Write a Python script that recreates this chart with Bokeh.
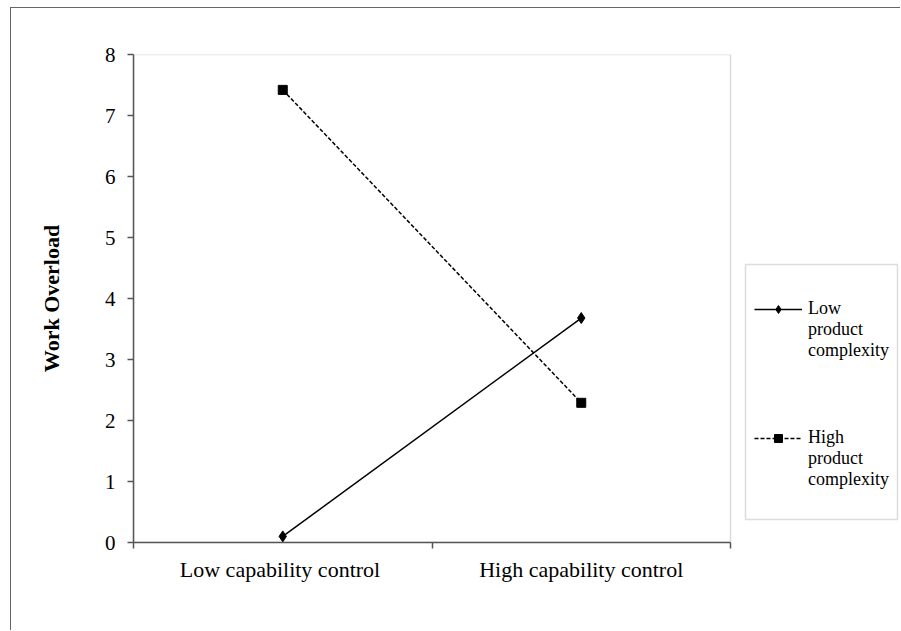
from bokeh.plotting import figure
from bokeh.models import FixedTicker, Legend, LegendItem, Range1d, BoxAnnotation
from bokeh.embed import file_html
from bokeh.resources import INLINE

categories = ["Low  capability control", "High capability control"]
low_complexity = [0.1, 3.68]
high_complexity = [7.42, 2.29]
series_names = ["Low\nproduct\ncomplexity", "High\nproduct\ncomplexity"]
y_ticks = [0, 1, 2, 3, 4, 5, 6, 7, 8]

FONT = "Liberation Serif"
n = len(categories)
ymax = 8
xs = [i + 0.5 for i in range(n)]

# layout in canvas pixels: plot area 133..730 x 54..542; canvas continues to 901
FL, FR, FT, FB = 133, 730, 54, 542
x_end = n * (901 - FL) / (FR - FL)

def px_x(px):
    return n * (px - FL) / (FR - FL)

def px_y(py):
    return ymax * (FB - py) / (FB - FT)

p = figure(width=890, height=623, output_backend="svg", toolbar_location=None,
           x_range=Range1d(0, x_end), y_range=Range1d(0, ymax),
           min_border_left=122, min_border_top=46, min_border_right=0, min_border_bottom=89)
p.styles = {"border-left": "1.5px solid #666", "border-top": "1.5px solid #666",
            "margin-left": "10px", "margin-top": "7px"}
p.grid.visible = False
p.outline_line_color = None
p.background_fill_color = "white"
p.border_fill_color = "white"

# frame of the plot area
p.add_layout(BoxAnnotation(left=0, right=n, bottom=0, top=ymax, fill_alpha=0,
                           line_color="#8a8a8a", line_width=1.5, level="underlay"))
# legend frame
p.add_layout(BoxAnnotation(left=px_x(745), right=px_x(897), bottom=px_y(519), top=px_y(264),
                           fill_alpha=0, line_color="#8a8a8a", line_width=1.5, level="underlay"))

r1 = p.line(xs, low_complexity, line_color="black", line_width=1.5)
m1 = p.scatter(xs, low_complexity, marker="diamond", size=11, color="black")
r2 = p.line(xs, high_complexity, line_color="black", line_width=1.5, line_dash="4 2")
m2 = p.scatter(xs, high_complexity, marker="square", size=9, color="black")

xa = p.xaxis[0]
xa.bounds = (0, n)
xa.ticker = FixedTicker(ticks=xs, minor_ticks=list(range(n + 1)))
xa.major_label_overrides = {x: c for x, c in zip(xs, categories)}
xa.major_tick_out = 0
xa.major_tick_in = 0
xa.minor_tick_out = 6
xa.minor_tick_in = 0
xa.axis_line_color = "#555555"
xa.axis_line_width = 1.5
xa.minor_tick_line_color = "#555555"
xa.minor_tick_line_width = 1.5
xa.major_label_text_font = FONT
xa.major_label_text_font_size = "22px"
xa.major_label_text_color = "black"
xa.major_label_standoff = 8

ya = p.yaxis[0]
ya.ticker = FixedTicker(ticks=y_ticks)
ya.major_tick_out = 6
ya.major_tick_in = 0
ya.minor_tick_out = 0
ya.minor_tick_in = 0
ya.axis_line_color = "#555555"
ya.axis_line_width = 1.5
ya.major_tick_line_color = "#555555"
ya.major_tick_line_width = 1.5
ya.major_label_text_font = FONT
ya.major_label_text_font_size = "21px"
ya.major_label_text_color = "black"
ya.major_label_standoff = 12
ya.axis_label = "Work Overload"
ya.axis_label_text_font = FONT
ya.axis_label_text_font_size = "22px"
ya.axis_label_text_font_style = "bold"
ya.axis_label_text_color = "black"
ya.axis_label_standoff = 38

# two leading blank lines put the marker level with the first line of each label
legend = Legend(items=[LegendItem(label="\n\n" + series_names[0], renderers=[r1, m1]),
                       LegendItem(label="\n\n" + series_names[1], renderers=[r2, m2])],
                location=(621, 52), orientation="vertical",
                label_text_font=FONT, label_text_font_size="18px",
                label_text_line_height=1.17,
                label_text_color="black", glyph_width=48, label_standoff=6,
                padding=10, spacing=24, margin=0,
                border_line_color=None, background_fill_alpha=0)
p.add_layout(legend, "center")

open("out.html", "w").write(file_html(p, INLINE))
